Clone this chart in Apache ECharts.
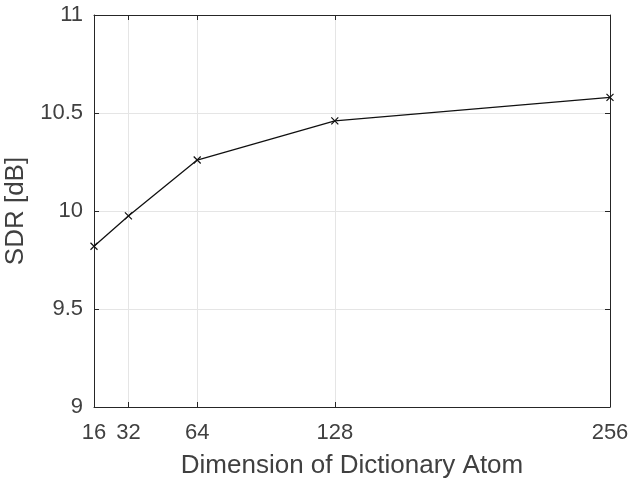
<!DOCTYPE html>
<html>
<head>
<meta charset="utf-8">
<script src="https://cdn.jsdelivr.net/npm/echarts@6/dist/echarts.min.js"></script>
<style>html,body{margin:0;padding:0;background:#fff}#chart{width:631px;height:482px}</style>
</head>
<body>
<div id="chart"></div>
<script>
var dims = [16, 32, 64, 128, 256]
var sdr = [9.82, 9.975, 10.26, 10.46, 10.58]
var yTicks = [9, 9.5, 10, 10.5, 11]

var chart = echarts.init(document.getElementById('chart'))
var font = 'Liberation Sans, Arial, Helvetica, sans-serif'
var txt = '#404040'
var ax = '#262626'

function xAx(pos, show) {
    return {
        type: 'value', position: pos, min: 16, max: 256,
        name: show ? 'Dimension of Dictionary Atom' : '',
        nameLocation: 'middle', nameGap: 46,
        nameTextStyle: { fontFamily: font, fontSize: 26, color: txt },
        axisLine: { show: true, lineStyle: { color: ax, width: 1 } },
        axisTick: { show: true, inside: true, length: 5, customValues: dims, lineStyle: { color: ax } },
        axisLabel: { show: show, customValues: dims, fontFamily: font, fontSize: 22, color: txt, margin: 15 },
        splitLine: { show: show, lineStyle: { color: '#e5e5e5', width: 1 } }
    }
}
function yAx(pos, show) {
    return {
        type: 'value', position: pos, min: 9, max: 11, interval: 0.5,
        name: show ? 'SDR [dB]' : '',
        nameLocation: 'middle', nameGap: 58,
        nameTextStyle: { fontFamily: font, fontSize: 26, color: txt },
        axisLine: { show: true, lineStyle: { color: ax, width: 1 } },
        axisTick: { show: true, inside: true, length: 5, customValues: yTicks, lineStyle: { color: ax } },
        axisLabel: { show: show, customValues: yTicks, fontFamily: font, fontSize: 22, color: txt, margin: 11,
            formatter: function (v) { return String(v) } },
        splitLine: { show: show, lineStyle: { color: '#e5e5e5', width: 1 } }
    }
}

var option = {
    animation: false,
    backgroundColor: '#fff',
    grid: { left: 94, right: 21, top: 15, bottom: 75, containLabel: false, outerBoundsMode: 'none' },
    xAxis: [xAx('bottom', true), xAx('top', false)],
    yAxis: [yAx('left', true), yAx('right', false)],
    series: [{
        type: 'line',
        data: dims.map(function (d, i) { return [d, sdr[i]] }),
        symbol: 'path://M0,0L10,10M10,0L0,10',
        symbolSize: 7,
        showAllSymbol: true,
        lineStyle: { color: '#111', width: 1.3 },
        itemStyle: { color: '#111', borderColor: '#111', borderWidth: 1.2 },
        z: 5
    }]
}
chart.setOption(option)
</script>
</body>
</html>
